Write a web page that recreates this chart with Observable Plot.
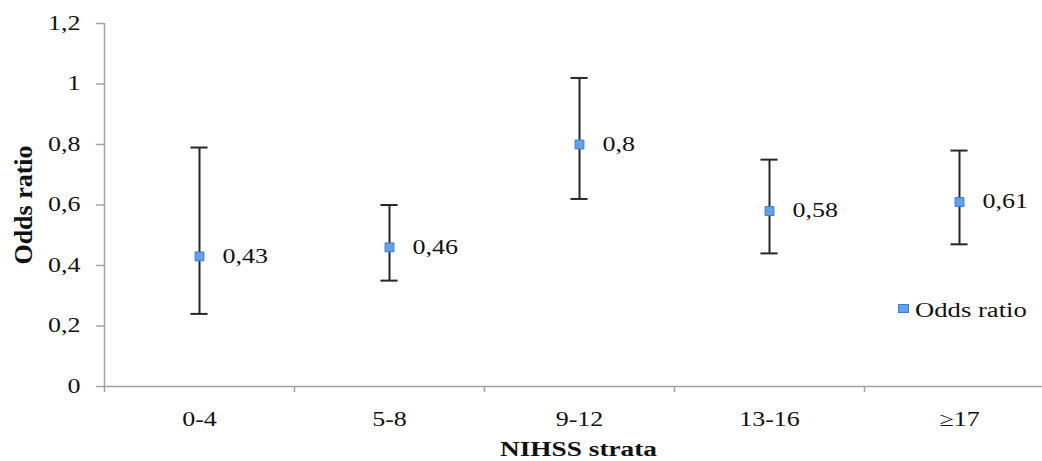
<!DOCTYPE html>
<html>
<head>
<meta charset="utf-8">
<script src="https://cdn.jsdelivr.net/npm/d3@7"></script>
<script src="https://cdn.jsdelivr.net/npm/@observablehq/plot@0.6"></script>
<style>
  html, body { margin: 0; padding: 0; background: white; }
  #wrap { position: relative; width: 1042px; height: 461px; overflow: hidden; }
  #legend { position: absolute; left: 898px; top: 299px; font-family: "Liberation Serif", serif; font-size: 20.5px; color: #111; display: flex; align-items: center; }
  #legend .sw { width: 9px; height: 7px; background: #62a2e8; border: 1px solid #3d7cc9; margin-right: 6px; margin-top: -4px; }
  #legend .lt { display: inline-block; transform: scaleX(1.3); transform-origin: left center; }
</style>
</head>
<body>
<div id="wrap"><div id="legend"><span class="sw"></span><span class="lt">Odds ratio</span></div></div>
<script>
const categories = ["0-4", "5-8", "9-12", "13-16", "≥17"];
const oddsRatio = [0.43, 0.46, 0.8, 0.58, 0.61];
const lower = [0.24, 0.35, 0.62, 0.44, 0.47];
const upper = [0.79, 0.60, 1.02, 0.75, 0.78];
const valueLabels = ["0,43", "0,46", "0,8", "0,58", "0,61"];
const yTicks = [0, 0.2, 0.4, 0.6, 0.8, 1, 1.2];
const yTickLabels = ["0", "0,2", "0,4", "0,6", "0,8", "1", "1,2"];

const idx = d3.range(categories.length);
const edges = d3.range(categories.length + 1).map(i => i - 0.5);
const capHalf = 0.045;
const axisGray = "#a3a3a3";
const barColor = "#262626";
const stretchX = 1.3;

const chart = Plot.plot({
  width: 1042,
  height: 461,
  marginLeft: 104,
  marginRight: 0,
  marginTop: 23,
  marginBottom: 75,
  style: { fontFamily: "Liberation Serif, serif", fontSize: "20px", color: "#111", background: "white" },
  x: { type: "linear", domain: [-0.5, categories.length - 0.5], range: [104, 1054] },
  y: { domain: [0, 1.2], range: [386, 23] },
  marks: [
    Plot.axisY({ ticks: yTicks, tickFormat: d => yTickLabels[yTicks.indexOf(d)], tickSize: 8, tickPadding: 16, stroke: axisGray, strokeWidth: 1.5, label: null, fontSize: 20 }),
    Plot.axisX({ ticks: edges, tickFormat: () => "", tickSize: 6, stroke: axisGray, strokeWidth: 1.5, label: null }),
    Plot.axisX({ ticks: idx, tickFormat: i => categories[i], tickSize: 0, tickPadding: 25, label: null, fontSize: 20 }),
    Plot.ruleY([0], { x1: -0.5, x2: categories.length - 0.5, stroke: axisGray, strokeWidth: 1.5 }),
    Plot.ruleX([-0.5], { y1: 0, y2: 1.2, stroke: axisGray, strokeWidth: 1.5 }),
    Plot.text(["Odds ratio"], { frameAnchor: "left", textAnchor: "middle", rotate: -90, dx: -81, dy: 0, fontWeight: "bold", fontSize: 26 }),
    Plot.text(["NIHSS strata"], { frameAnchor: "bottom", textAnchor: "middle", dy: 69, dx: 5, fontWeight: "bold", fontSize: 21 }),
    Plot.ruleX(idx, { x: i => i, y1: i => lower[i], y2: i => upper[i], stroke: barColor, strokeWidth: 2 }),
    Plot.ruleY(idx, { y: i => upper[i], x1: i => i - capHalf, x2: i => i + capHalf, stroke: barColor, strokeWidth: 2 }),
    Plot.ruleY(idx, { y: i => lower[i], x1: i => i - capHalf, x2: i => i + capHalf, stroke: barColor, strokeWidth: 2 }),
    Plot.dot(idx, { x: i => i, y: i => oddsRatio[i], symbol: "square", r: 5, fill: "#62a2e8", stroke: "#3d7cc9", strokeWidth: 1 }),
    Plot.text(idx, { x: i => i, y: i => oddsRatio[i], text: i => valueLabels[i], textAnchor: "start", dx: 23, fontSize: 20 })
  ]
});

// The reference image is horizontally stretched; widen the glyphs of horizontal texts around their anchors.
chart.querySelectorAll("text").forEach(t => {
  const tr = t.getAttribute("transform") || "";
  if (tr.includes("rotate")) return;
  t.setAttribute("transform", (tr + ` scale(${stretchX},1)`).trim());
});

document.getElementById("wrap").prepend(chart);
</script>
</body>
</html>
